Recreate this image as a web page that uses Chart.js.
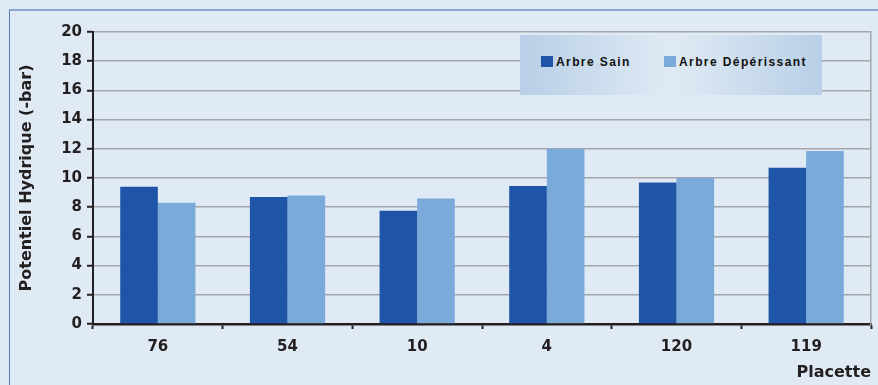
<!DOCTYPE html>
<html>
<head>
<meta charset="utf-8">
<script src="https://cdn.jsdelivr.net/npm/chart.js@4/dist/chart.umd.min.js"></script>
<style>
  html, body { margin: 0; padding: 0; background: #e0eaf4; }
  #wrap { position: relative; width: 878px; height: 385px; overflow: hidden; background: #e0eaf4; }
  #frame { position: absolute; left: 9px; top: 9px; width: 900px; height: 400px;
           border-top: 2px solid #8aa8d0; border-left: 1.5px solid #4f7fbf; box-sizing: border-box; }
  canvas { position: absolute; left: 0; top: 0; }
  #legend { position: absolute; left: 520px; top: 35px; width: 302px; height: 60px;
            background: linear-gradient(to right, #b8cfe7 0%, #e0eaf4 50%, #b8cfe7 100%);
            font-family: "Liberation Sans", Arial, sans-serif; font-weight: bold; font-size: 12px;
            letter-spacing: 1.4px; color: #111; }
  .item { position: absolute; top: 20px; height: 15px; line-height: 15px; white-space: nowrap; }
  .sw { display: inline-block; width: 12px; height: 11px; vertical-align: -1px; margin-right: 3px; }
</style>
</head>
<body>
<div id="wrap">
  <div id="frame"></div>
  <canvas id="c" width="878" height="385"></canvas>
  <div id="legend"></div>
</div>
<script>
const categories = ['76', '54', '10', '4', '120', '119'];
const seriesNames = ['Arbre Sain', 'Arbre Dépérissant'];
const arbreSain = [9.4, 8.7, 7.75, 9.45, 9.7, 10.7];
const arbreDeperissant = [8.3, 8.8, 8.6, 12.0, 10.0, 11.85];
const yTicks = [0, 2, 4, 6, 8, 10, 12, 14, 16, 18, 20];
const colors = ['#1f55a6', '#7aaad9'];

const dark = '#231f20';
const gridGrey = '#a4a6ac';
const tickFont = { family: 'DejaVu Sans', weight: 'bold', size: 15 };
const titleFont = { family: 'DejaVu Sans', weight: 'bold', size: 16 };

const chart = new Chart(document.getElementById('c'), {
  type: 'bar',
  data: {
    labels: categories,
    datasets: [
      { label: seriesNames[0], data: arbreSain, backgroundColor: colors[0], borderWidth: 0,
        categoryPercentage: 0.58, barPercentage: 1.0 },
      { label: seriesNames[1], data: arbreDeperissant, backgroundColor: colors[1], borderWidth: 0,
        categoryPercentage: 0.58, barPercentage: 1.0 }
    ]
  },
  options: {
    responsive: false,
    animation: false,
    layout: { padding: { left: 13, top: 32, right: 7, bottom: 0 } },
    plugins: { legend: { display: false }, tooltip: { enabled: false } },
    scales: {
      x: {
        offset: true,
        grid: { offset: true, drawOnChartArea: false, drawTicks: true, tickLength: 5,
                tickColor: dark, tickWidth: 2 },
        border: { color: dark, width: 2.5 },
        ticks: { color: dark, font: tickFont, padding: 9 },
        title: { display: true, text: 'Placette', align: 'end', color: dark,
                 font: titleFont, padding: { top: 2, bottom: 3 } },
        afterFit: (s) => { s.height = 61; }
      },
      y: {
        min: yTicks[0], max: yTicks[yTicks.length - 1],
        afterBuildTicks: (s) => { s.ticks = yTicks.map(v => ({ value: v })); },
        grid: { color: gridGrey, lineWidth: 1.5, tickLength: 6, tickColor: dark, tickWidth: 2 },
        border: { color: dark, width: 2 },
        ticks: { color: dark, font: tickFont, padding: 5 },
        title: { display: true, text: 'Potentiel Hydrique (-bar)', color: dark,
                 font: titleFont, padding: { top: 4, bottom: 4 } },
        afterFit: (s) => { s.width = 80; }
      },
      y2: {
        position: 'right',
        min: yTicks[0], max: yTicks[yTicks.length - 1],
        grid: { drawOnChartArea: false, drawTicks: false },
        border: { color: gridGrey, width: 1.5 },
        ticks: { display: false },
        afterFit: (s) => { s.width = 0; }
      }
    }
  }
});

// HTML legend built from dataset labels/colours
const legend = document.getElementById('legend');
const itemLefts = [21, 144];
chart.data.datasets.forEach((ds, i) => {
  const it = document.createElement('div');
  it.className = 'item';
  it.style.left = itemLefts[i] + 'px';
  const sw = document.createElement('span');
  sw.className = 'sw';
  sw.style.background = ds.backgroundColor;
  it.appendChild(sw);
  it.appendChild(document.createTextNode(ds.label));
  legend.appendChild(it);
});
</script>
</body>
</html>
